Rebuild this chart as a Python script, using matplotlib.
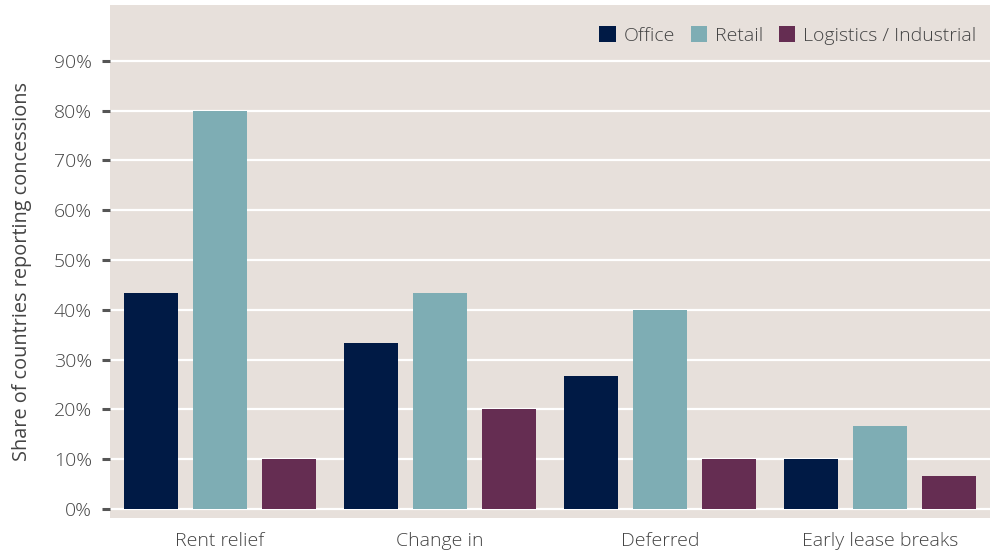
import numpy as np
import matplotlib.pyplot as plt
from matplotlib.ticker import PercentFormatter

categories = ["Rent relief", "Change in", "Deferred", "Early lease breaks"]
series = ["Office", "Retail", "Logistics / Industrial"]
office = [43.3, 33.3, 26.7, 10.0]
retail = [80.0, 43.3, 40.0, 16.7]
logistics = [10.0, 20.0, 10.0, 6.7]
colors = ["#001a45", "#7eadb4", "#652d52"]

plt.rcParams['font.family'] = ['Open Sans', 'DejaVu Sans']
plt.rcParams['font.weight'] = 'light'

fig = plt.figure(figsize=(9.98, 5.53), dpi=100)
ax = fig.add_axes([110/998, 35/553, 880/998, 513/553])
ax.set_facecolor("#e7e0db")

x = np.arange(len(categories))
step = 0.314
width = 0.245
for i, (vals, lab) in enumerate(zip([office, retail, logistics], series)):
    ax.bar(x + (i - 1) * step, vals, width=width, color=colors[i], label=lab, zorder=3)

ax.set_xlim(-0.5, 3.5)
ax.set_ylim(-1.8, 101.2)
ax.set_yticks(np.arange(0, 91, 10))
ax.yaxis.set_major_formatter(PercentFormatter(decimals=0))
ax.grid(axis="y", color="white", linewidth=1.6, zorder=1)
ax.set_xticks(x)
ax.set_xticklabels(categories)
ax.tick_params(axis="x", length=0, pad=10, labelsize=14, labelcolor="#444444")
ax.tick_params(axis="y", length=6, width=2.2, color="#555555", pad=7,
               labelsize=14, labelcolor="#444444")
for s in ax.spines.values():
    s.set_visible(False)
ax.set_ylabel("Share of countries reporting concessions", fontsize=14.3,
              color="#444444")
ax.yaxis.set_label_coords(-0.089, 0.48)

leg = ax.legend(loc="upper right", ncol=3, frameon=False, fontsize=14,
                handlelength=0.85, handleheight=0.85, handletextpad=0.4,
                columnspacing=0.8, bbox_to_anchor=(1.0, 0.985), borderaxespad=0.3)
for t in leg.get_texts():
    t.set_color("#444444")

fig.savefig("out.png", dpi=100)
